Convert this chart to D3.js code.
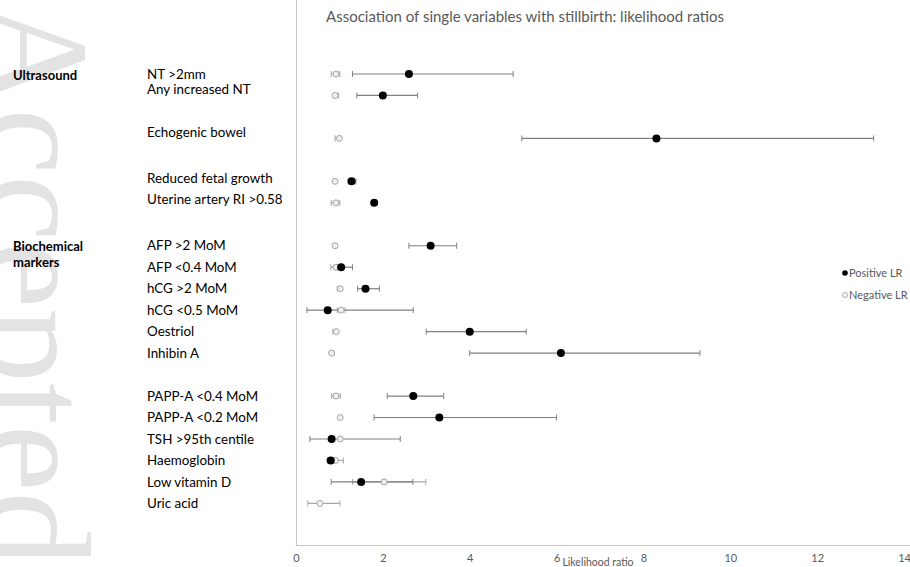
<!DOCTYPE html>
<html>
<head>
<meta charset="utf-8">
<script src="https://cdn.jsdelivr.net/npm/d3@7"></script>
<style>
  html, body { margin: 0; padding: 0; background: #fff; }
  svg { display: block; font-family: Lato, "Open Sans", sans-serif; }
  .wm { font-family: "Liberation Serif", "DejaVu Serif", serif; }
</style>
</head>
<body>
<svg id="chart" width="910" height="567"></svg>
<script>
// ---------------- data ----------------
const title = "Association of single variables with stillbirth: likelihood ratios";
const xAxisLabel = "Likelihood ratio";
const xTicks = [0, 2, 4, 6, 8, 10, 12, 14];

const categories = ["NT >2mm", "Any increased NT", "Echogenic bowel", "Reduced fetal growth",
  "Uterine artery RI >0.58", "AFP >2 MoM", "AFP <0.4 MoM", "hCG >2 MoM", "hCG <0.5 MoM",
  "Oestriol", "Inhibin A", "PAPP-A <0.4 MoM", "PAPP-A <0.2 MoM", "TSH >95th centile",
  "Haemoglobin", "Low vitamin D", "Uric acid"];
// row slot of each category (gaps separate groups)
const rowSlot   = [0, 1, 3, 5, 6, 8, 9, 10, 11, 12, 13, 15, 16, 17, 18, 19, 20];
const labelSlot = [0, 0.7, 2.7, 4.87, 5.82, 8, 9, 10, 11, 12, 13, 15, 16, 17, 18, 19, 20];

const groups = [
  { name: ["Ultrasound"], slot: 0.05 },
  { name: ["Biochemical", "markers"], slot: 8.05 }
];

const positiveLR = [2.6, 2.0, 8.3, 1.28, 1.8, 3.1, 1.04, 1.6, 0.73, 4.0, 6.1, 2.7, 3.3, 0.82, 0.8, 1.5, null];
const positiveLo = [1.3, 1.4, 5.2, 1.2, 1.8, 2.6, 0.95, 1.42, 0.25, 3.0, 4.0, 2.1, 1.8, 0.32, 0.72, 0.81, null];
const positiveHi = [5.0, 2.8, 13.3, 1.38, 1.8, 3.7, 1.3, 1.92, 2.7, 5.3, 9.3, 3.4, 6.0, 2.4, 0.88, 2.69, null];

const negativeLR = [0.92, 0.9, 1.0, 0.9, 0.92, 0.9, 0.92, 1.02, 1.04, 0.93, 0.82, 0.92, 1.02, 1.02, 0.91, 2.03, 0.55];
const negativeLo = [0.81, 0.88, 0.9, 0.9, 0.81, 0.9, 0.8, 0.95, 0.95, 0.85, 0.8, 0.82, 1.02, 1.02, 0.85, 1.3, 0.27];
const negativeHi = [1.01, 0.98, 1.01, 0.9, 1.01, 0.9, 0.95, 1.02, 1.13, 0.93, 0.87, 1.02, 1.02, 1.02, 1.09, 2.99, 1.01];

const legendItems = ["Positive LR", "Negative LR"];
const watermark = "Accepted Article";

// ---------------- drawing ----------------
const svg = d3.select("#chart");

// watermark (rotated, partly off the page)
svg.append("text")
  .attr("class", "wm")
  .attr("transform", "translate(-14,0) rotate(90)")
  .attr("font-size", 150)
  .attr("fill", "#e3e3e3")
  .text(watermark);

const x = d3.scaleLinear().domain([0, 14]).range([296, 904]);
const y = d3.scaleLinear().domain([0, 20]).range([74, 503.4]);
const axisY = 545;

// plot border (left)
svg.append("line")
  .attr("x1", x(0) + 0.5).attr("x2", x(0) + 0.5)
  .attr("y1", 0).attr("y2", axisY)
  .attr("stroke", "#c8c8c8").attr("stroke-width", 1);

const xAxis = d3.axisBottom(x).tickValues(xTicks).tickSize(0).tickPadding(9).tickFormat(d3.format("d"));
const gx = svg.append("g").attr("transform", `translate(0,${axisY + 0.5})`).call(xAxis);
gx.select(".domain").attr("stroke", "#c8c8c8").attr("d", `M${x(0)},0H910`);
gx.selectAll("text").attr("fill", "#595959").attr("font-size", 11)
  .attr("font-family", "Lato, sans-serif");

svg.append("text")
  .attr("x", 598).attr("y", 566)
  .attr("text-anchor", "middle")
  .attr("fill", "#595959").attr("font-size", 10.5)
  .text(xAxisLabel);

// title
svg.append("text")
  .attr("x", 326).attr("y", 22)
  .attr("fill", "#595959").attr("font-size", 15)
  .text(title);

// category labels
svg.append("g").selectAll("text").data(categories).join("text")
  .attr("x", 147)
  .attr("y", (d, i) => y(labelSlot[i]))
  .attr("dy", "0.35em")
  .attr("fill", "#000").attr("font-size", 13.4)
  .text(d => d);

// group labels
groups.forEach(g => {
  const t = svg.append("text")
    .attr("x", 13).attr("y", y(g.slot))
    .attr("font-weight", "bold").attr("font-size", 13).attr("fill", "#000");
  g.name.forEach((line, k) => {
    t.append("tspan").attr("x", 13).attr("dy", k === 0 ? "0.35em" : "16px").text(line);
  });
});

const rows = categories.map((c, i) => ({
  c, slot: rowSlot[i],
  p: positiveLR[i], pl: positiveLo[i], ph: positiveHi[i],
  n: negativeLR[i], nl: negativeLo[i], nh: negativeHi[i]
}));

function errorBars(lo, hi, color) {
  const g = svg.append("g");
  const data = rows.filter(r => r[lo] != null && r[hi] > r[lo]);
  g.selectAll("line.bar").data(data).join("line").attr("class", "bar")
    .attr("x1", r => x(r[lo])).attr("x2", r => x(r[hi]))
    .attr("y1", r => y(r.slot)).attr("y2", r => y(r.slot))
    .attr("stroke", color).attr("stroke-width", 1.2);
  [lo, hi].forEach(k => {
    g.selectAll("line.cap" + k).data(data).join("line").attr("class", "cap" + k)
      .attr("x1", r => x(r[k])).attr("x2", r => x(r[k]))
      .attr("y1", r => y(r.slot) - 3).attr("y2", r => y(r.slot) + 3)
      .attr("stroke", color).attr("stroke-width", 1);
  });
}

errorBars("nl", "nh", "#a6a6a6");
errorBars("pl", "ph", "#808080");

// negative LR markers
svg.append("g").selectAll("circle").data(rows.filter(r => r.n != null)).join("circle")
  .attr("cx", r => x(r.n)).attr("cy", r => y(r.slot)).attr("r", 3)
  .attr("fill", "#efefef").attr("stroke", "#a6a6a6").attr("stroke-width", 1);

// positive LR markers
svg.append("g").selectAll("circle").data(rows.filter(r => r.p != null)).join("circle")
  .attr("cx", r => x(r.p)).attr("cy", r => y(r.slot)).attr("r", 4)
  .attr("fill", "#000");

// legend
const lg = svg.append("g").attr("transform", "translate(845,273)");
legendItems.forEach((name, i) => {
  const gy = i * 22;
  if (i === 0) {
    lg.append("circle").attr("cx", 0).attr("cy", gy).attr("r", 2.8).attr("fill", "#000");
  } else {
    lg.append("circle").attr("cx", 0).attr("cy", gy).attr("r", 2.5)
      .attr("fill", "#fff").attr("stroke", "#a6a6a6").attr("stroke-width", 1);
  }
  lg.append("text").attr("x", 4).attr("y", gy).attr("dy", "0.35em")
    .attr("fill", "#595959").attr("font-size", 11).text(name);
});
</script>
</body>
</html>
